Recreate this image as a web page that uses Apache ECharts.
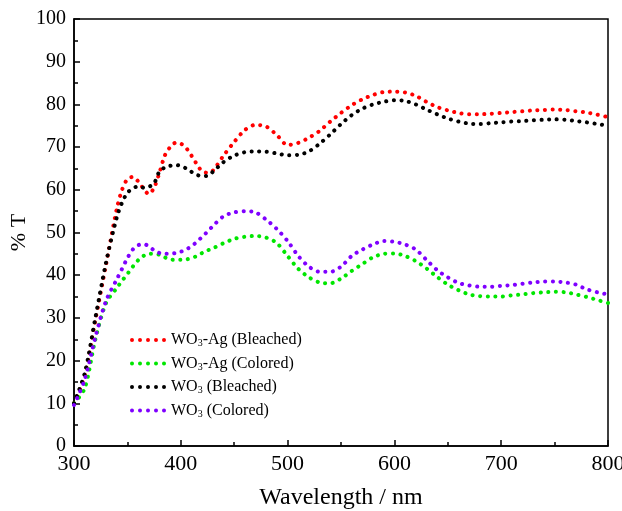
<!DOCTYPE html>
<html>
<head>
<meta charset="utf-8">
<script src="https://cdn.jsdelivr.net/npm/echarts@6/dist/echarts.min.js"></script>
<style>html,body{margin:0;padding:0;background:#fff}#c{width:622px;height:511px}</style>
</head>
<body>
<div id="c"></div>
<script>
const wavelengths = [300,310,320,330,340,345,350,355,360,365,370,375,380,385,390,395,400,405,410,415,420,425,430,440,450,460,470,480,490,500,510,520,530,540,550,560,570,580,590,600,610,620,630,640,650,660,670,680,690,700,710,720,730,740,750,760,770,780,790,800];
const agBleached = [10,16.5,29.5,42.5,55.5,60,62.5,63,62,60.3,59,60.5,64,68,70,71,70.8,69.8,68,66,64.3,64,64.5,68,71.2,74,75.2,74.8,72.8,70.5,71,72.2,73.8,76,78,79.8,81.2,82.2,82.9,83,82.8,82,80.6,79.4,78.6,78,77.7,77.7,77.8,78,78.2,78.4,78.6,78.7,78.8,78.7,78.4,78.1,77.6,77];
const agColored = [10,13.5,25,33.5,37,38.7,40.3,42,43.5,44.5,45,45,44.8,44.2,43.7,43.6,43.6,43.7,44,44.5,45.2,45.8,46.3,47.5,48.5,49,49.2,48.8,47.5,44.5,41.5,39.5,38.3,38.1,39.2,41,42.6,44.2,45,45.1,44.5,43.3,41.6,39.6,37.8,36.5,35.5,35.1,35,35,35.3,35.5,35.8,36,36.1,36,35.5,34.9,34.2,33.5];
const woBleached = [10,17,30,43,53.5,57,59.3,60.3,60.8,60.5,60.7,61.5,64.3,65.2,65.6,65.8,65.6,65,64.2,63.5,63.2,63.3,64.2,66.5,68,68.8,69,68.9,68.5,68.1,68.2,69,70.8,73,75.4,77.5,79,80,80.6,81,80.8,80,78.8,77.7,76.7,76,75.5,75.4,75.6,75.8,76,76.1,76.3,76.4,76.5,76.4,76.1,75.8,75.4,75];
const woColored = [9.6,15.5,25.5,34,39,41.5,44,46,47,47.3,46.8,45.8,45.2,45,45,45.2,45.5,46,46.8,47.8,49,50.2,51.5,53.8,54.7,55,54.7,53,50.8,48,44.5,42,40.8,40.8,42,44.5,46,47.2,48,47.8,47.2,46,43.6,41.2,39.5,38.2,37.6,37.3,37.3,37.5,37.7,38,38.3,38.5,38.5,38.3,37.8,36.7,36,35.5];
const seriesNames = ['WO3-Ag (Bleached)','WO3-Ag (Colored)','WO3 (Bleached)','WO3 (Colored)'];
const seriesColors = ['#ff0000','#00e600','#000000','#7f00ff'];
const seriesValues = [agBleached, agColored, woBleached, woColored];

const font = 'Liberation Serif';
const dotIcon = 'path://M0,2a2,2 0 1,0 4,0a2,2 0 1,0 -4,0M8,2a2,2 0 1,0 4,0a2,2 0 1,0 -4,0M16,2a2,2 0 1,0 4,0a2,2 0 1,0 -4,0M24,2a2,2 0 1,0 4,0a2,2 0 1,0 -4,0M32,2a2,2 0 1,0 4,0a2,2 0 1,0 -4,0';
const chart = echarts.init(document.getElementById('c'), null, {renderer:'canvas'});
const series = seriesNames.map((n,i)=>({
  name:n, type:'line', smooth:0.3, showSymbol:false, symbol:'none',
  data: wavelengths.map((w,j)=>[w, seriesValues[i][j]]),
  lineStyle:{color:seriesColors[i], width:4, type:[0.1,7.5], cap:'round'},
  itemStyle:{color:seriesColors[i]}
}));
chart.setOption({
  animation:false,
  backgroundColor:'#fff',
  grid:{left:74, right:14, top:19, bottom:65, show:true, borderColor:'#000', borderWidth:1.5, backgroundColor:'transparent', containLabel:false, outerBoundsMode:'none'},
  legend:{
    orient:'vertical', left:125, top:327, itemGap:7, itemWidth:36, itemHeight:4,
    icon: dotIcon,
    data: seriesNames,
    formatter: function(n){ return n.replace('WO3','WO{sub|3}'); },
    textStyle:{fontFamily:font, fontSize:16, color:'#000',
      rich:{sub:{fontFamily:font, fontSize:10, color:'#000', verticalAlign:'bottom', padding:[7,0,0,0]}}}
  },
  xAxis:{type:'value', min:300, max:800, interval:100,
    name:'Wavelength / nm', nameLocation:'middle', nameGap:40, nameMoveOverlap:false,
    nameTextStyle:{fontFamily:font, fontSize:24, color:'#000'},
    axisLine:{show:true, onZero:false, lineStyle:{color:'#000', width:1.5}},
    axisTick:{show:true, inside:true, length:6, lineStyle:{color:'#000', width:1.5}},
    minorTick:{show:true, splitNumber:2, length:4, lineStyle:{color:'#000', width:1.5}},
    axisLabel:{fontFamily:font, fontSize:22, color:'#000', margin:7},
    splitLine:{show:false}
  },
  yAxis:{type:'value', min:0, max:100, interval:10,
    name:'% T', nameLocation:'middle', nameGap:44, nameRotate:90, nameMoveOverlap:false,
    nameTextStyle:{fontFamily:font, fontSize:22, color:'#000'},
    axisLine:{show:true, lineStyle:{color:'#000', width:1.5}},
    axisTick:{show:true, inside:true, length:6, lineStyle:{color:'#000', width:1.5}},
    minorTick:{show:true, splitNumber:2, length:4, lineStyle:{color:'#000', width:1.5}},
    axisLabel:{fontFamily:font, fontSize:20, color:'#000', margin:8},
    splitLine:{show:false}
  },
  series: series
});
</script>
</body>
</html>
